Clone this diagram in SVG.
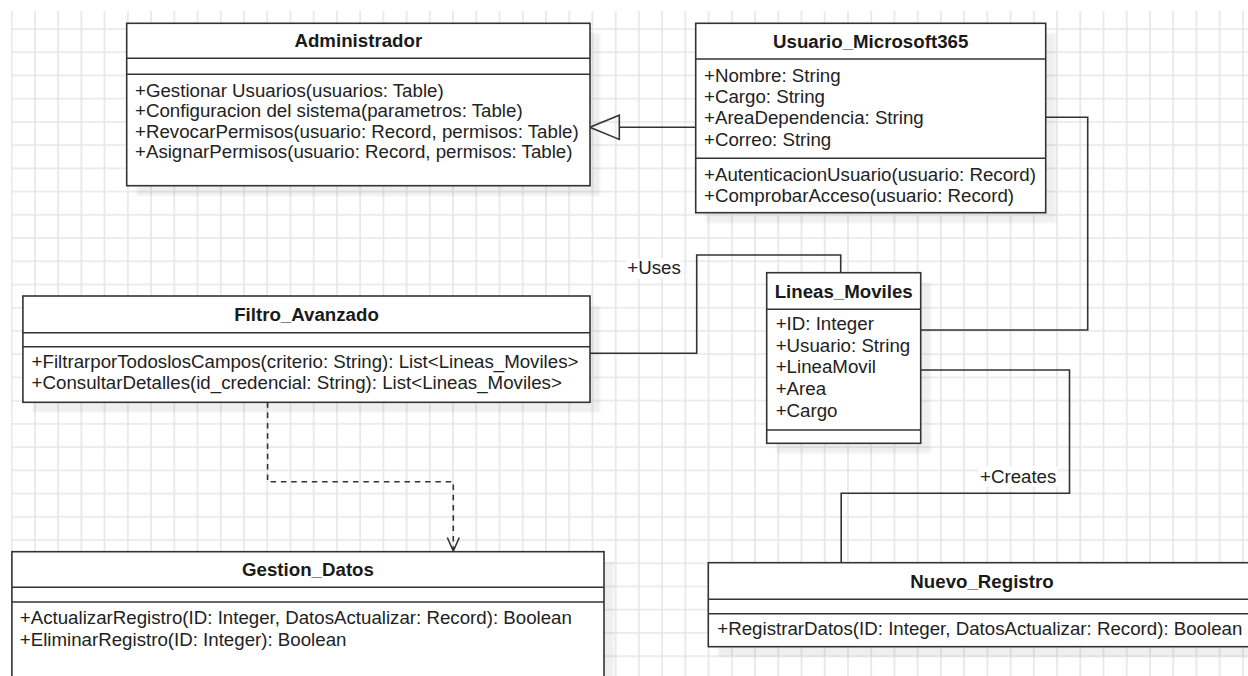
<svg xmlns="http://www.w3.org/2000/svg" width="1248" height="676" viewBox="0 0 1248 676">
  <defs>
    <pattern id="grid" patternUnits="userSpaceOnUse" x="10.7" y="28" width="23.23" height="23.23">
      <path d="M1 0V23.23M0 1H23.23" stroke="#e6e6e6" stroke-width="1.6" fill="none"/>
    </pattern>
    <filter id="sh" x="-5%" y="-5%" width="110%" height="110%">
      <feGaussianBlur stdDeviation="1.2"/>
    </filter>
  </defs>
  <style>
    .box { fill: #ffffff; stroke: #333333; stroke-width: 1.6; }
    .sep { stroke: #333333; stroke-width: 1.6; fill: none; }
    .shadow { fill: #000000; opacity: 0.06; filter: url(#sh); }
    .title { font-family: "Liberation Sans", Arial, sans-serif; font-size: 18.7px; font-weight: bold; fill: #1a1a1a; text-anchor: middle; }
    .txt { font-family: "Liberation Sans", Arial, sans-serif; font-size: 18.7px; fill: #222222; }
    .edge { stroke: #333333; stroke-width: 1.6; fill: none; }
    .dash { stroke: #333333; stroke-width: 1.6; fill: none; stroke-dasharray: 5.5 4.8; }
    .lbl { font-family: "Liberation Sans", Arial, sans-serif; font-size: 18.7px; fill: #222222; }
  </style>
  <rect x="0" y="0" width="1248" height="676" fill="#ffffff"/>
  <rect x="11" y="11" width="1237" height="665" fill="url(#grid)"/>

  <g id="connectors">
    <line class="edge" x1="695.7" y1="127.3" x2="619.3" y2="127.3"/>
    <polygon class="edge" points="589.8,127.3 619.3,115.2 619.3,139.4" fill="#ffffff"/>
    <polyline class="edge" points="1045.7,117.3 1087.7,117.3 1087.7,330 920.7,330"/>
    <polyline class="edge" points="590,353.3 696.7,353.3 696.7,255 840.7,255 840.7,272.7"/>
    <rect x="626" y="258" width="56" height="21" fill="#ffffff"/>
    <text class="lbl" x="627.3" y="274.3">+Uses</text>
    <polyline class="edge" points="920.7,370 1069.5,370 1069.5,493.3 841.2,493.3 841.2,562.7"/>
    <rect x="978.5" y="466" width="79" height="21" fill="#ffffff"/>
    <text class="lbl" x="980" y="482.7">+Creates</text>
    <polyline class="dash" points="267.6,402.3 267.6,481.7 453.3,481.7 453.3,549"/>
    <polyline class="edge" points="447.3,537.5 453.3,551 459.3,537.5"/>
  </g>

  <g id="Administrador">
    <rect class="shadow" x="136.7" y="33.3" width="463.3" height="162.4"/>
    <rect class="box" x="126.7" y="23.3" width="463.3" height="162.4"/>
    <line class="sep" x1="126.7" y1="58.3" x2="590" y2="58.3"/>
    <line class="sep" x1="126.7" y1="74.3" x2="590" y2="74.3"/>
    <text class="title" x="358.3" y="47.3">Administrador</text>
    <text class="txt" x="135" y="96.5">+Gestionar Usuarios(usuarios: Table)</text>
    <text class="txt" x="135" y="117">+Configuracion del sistema(parametros: Table)</text>
    <text class="txt" x="135" y="137.5">+RevocarPermisos(usuario: Record, permisos: Table)</text>
    <text class="txt" x="135" y="158">+AsignarPermisos(usuario: Record, permisos: Table)</text>
  </g>

  <g id="Usuario_Microsoft365">
    <rect class="shadow" x="705.7" y="33.3" width="350" height="189.4"/>
    <rect class="box" x="695.7" y="23.3" width="350" height="189.4"/>
    <line class="sep" x1="695.7" y1="59" x2="1045.7" y2="59"/>
    <line class="sep" x1="695.7" y1="158.3" x2="1045.7" y2="158.3"/>
    <text class="title" x="870.7" y="47.5">Usuario_Microsoft365</text>
    <text class="txt" x="704" y="81.6">+Nombre: String</text>
    <text class="txt" x="704" y="103">+Cargo: String</text>
    <text class="txt" x="704" y="124.4">+AreaDependencia: String</text>
    <text class="txt" x="704" y="145.8">+Correo: String</text>
    <text class="txt" x="704" y="180.7">+AutenticacionUsuario(usuario: Record)</text>
    <text class="txt" x="704" y="201.7">+ComprobarAcceso(usuario: Record)</text>
  </g>

  <g id="Filtro_Avanzado">
    <rect class="shadow" x="32.9" y="306" width="567.1" height="106.3"/>
    <rect class="box" x="22.9" y="296" width="567.1" height="106.3"/>
    <line class="sep" x1="22.9" y1="332.7" x2="590" y2="332.7"/>
    <line class="sep" x1="22.9" y1="346.7" x2="590" y2="346.7"/>
    <text class="title" x="306.5" y="320.8">Filtro_Avanzado</text>
    <text class="txt" x="31.6" y="368.3">+FiltrarporTodoslosCampos(criterio: String): List&lt;Lineas_Moviles&gt;</text>
    <text class="txt" x="31.6" y="389">+ConsultarDetalles(id_credencial: String): List&lt;Lineas_Moviles&gt;</text>
  </g>

  <g id="Lineas_Moviles">
    <rect class="shadow" x="776.7" y="282.7" width="154" height="170.6"/>
    <rect class="box" x="766.7" y="272.7" width="154" height="170.6"/>
    <line class="sep" x1="766.7" y1="309.3" x2="920.7" y2="309.3"/>
    <line class="sep" x1="766.7" y1="430" x2="920.7" y2="430"/>
    <text class="title" x="843.7" y="297.5">Lineas_Moviles</text>
    <text class="txt" x="775.7" y="330">+ID: Integer</text>
    <text class="txt" x="775.7" y="351.7">+Usuario: String</text>
    <text class="txt" x="775.7" y="373.3">+LineaMovil</text>
    <text class="txt" x="775.7" y="395">+Area</text>
    <text class="txt" x="775.7" y="416.7">+Cargo</text>
  </g>

  <g id="Gestion_Datos">
    <rect class="shadow" x="21.9" y="561.7" width="592.1" height="160"/>
    <rect class="box" x="11.9" y="551.7" width="592.1" height="160"/>
    <line class="sep" x1="11.9" y1="587.3" x2="604" y2="587.3"/>
    <line class="sep" x1="11.9" y1="602" x2="604" y2="602"/>
    <text class="title" x="308" y="576">Gestion_Datos</text>
    <text class="txt" x="19.8" y="624.3">+ActualizarRegistro(ID: Integer, DatosActualizar: Record): Boolean</text>
    <text class="txt" x="19.8" y="645.7">+EliminarRegistro(ID: Integer): Boolean</text>
  </g>

  <g id="Nuevo_Registro">
    <rect class="shadow" x="718.3" y="572.7" width="547.4" height="84"/>
    <rect class="box" x="708.3" y="562.7" width="547.4" height="84"/>
    <line class="sep" x1="708.3" y1="599.3" x2="1255.7" y2="599.3"/>
    <line class="sep" x1="708.3" y1="613.7" x2="1255.7" y2="613.7"/>
    <text class="title" x="982" y="587.6">Nuevo_Registro</text>
    <text class="txt" x="717.3" y="634.5">+RegistrarDatos(ID: Integer, DatosActualizar: Record): Boolean</text>
  </g>
</svg>
